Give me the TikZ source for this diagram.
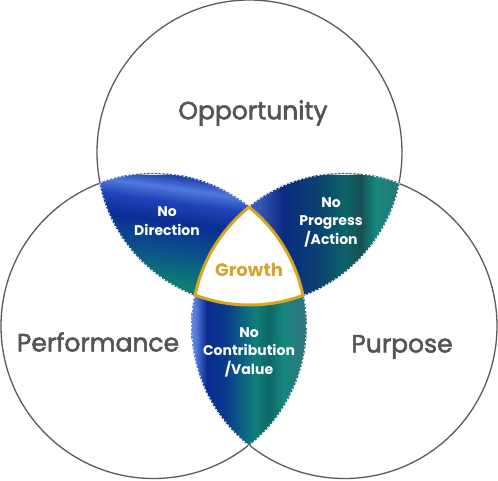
\documentclass[tikz,border=0pt]{standalone}
\usepackage{fontspec}
\setmainfont{Poppins}
\newfontfamily\ringfont{Poppins}[FakeBold=2.2]
\usetikzlibrary{positioning}
\definecolor{ringLine}{HTML}{5A5A5A}
\definecolor{textGray}{HTML}{555555}
\definecolor{goldEdge}{HTML}{D9A521}
\definecolor{goldText}{HTML}{D6A32E}
% direction lens colours
\definecolor{dirA}{HTML}{2B5D63}
\definecolor{dirB}{HTML}{0E7D74}
\definecolor{dirC}{HTML}{0B4F8A}
\definecolor{dirD}{HTML}{0A2E95}
\definecolor{dirE}{HTML}{1E44B8}
\definecolor{dirF}{HTML}{5079DC}
\definecolor{dirG}{HTML}{2444B4}
% progress lens colours
\definecolor{proA}{HTML}{3A5AB5}
\definecolor{proB}{HTML}{0A2A80}
\definecolor{proC}{HTML}{0B4470}
\definecolor{proD}{HTML}{0D6468}
\definecolor{proE}{HTML}{1A4E55}
\definecolor{proF}{HTML}{138A7F}
\definecolor{proG}{HTML}{2C7070}
% contribution lens colours
\definecolor{conA}{HTML}{5A80E0}
\definecolor{conB}{HTML}{0A2A90}
\definecolor{conC}{HTML}{0A3A8C}
\definecolor{conD}{HTML}{0E7E78}
\definecolor{conE}{HTML}{0E6868}
\definecolor{conF}{HTML}{15887E}
\definecolor{conG}{HTML}{3A6E7A}
\pgfdeclareverticalshading{directionShade}{100bp}{color(0bp)=(dirA); color(25bp)=(dirA);
  color(33bp)=(dirB); color(45bp)=(dirC); color(55bp)=(dirD); color(62bp)=(dirE);
  color(67bp)=(dirF); color(71bp)=(dirG); color(75bp)=(dirE); color(100bp)=(dirE)}
\pgfdeclarehorizontalshading{progressShade}{100bp}{color(0bp)=(proA); color(25bp)=(proA);
  color(40bp)=(proA); color(46bp)=(proB); color(55bp)=(proC); color(61bp)=(proD);
  color(64.5bp)=(proE); color(68bp)=(proF); color(75bp)=(proG); color(100bp)=(proG)}
\pgfdeclarehorizontalshading{contribShade}{100bp}{color(0bp)=(conA); color(25bp)=(conA);
  color(27bp)=(conA); color(32bp)=(conB); color(40bp)=(conC); color(52bp)=(conD);
  color(58bp)=(conE); color(64bp)=(conF); color(75bp)=(conG); color(100bp)=(conG)}
\newcommand{\ringRad}{152.5pt}
\newcommand{\ringOut}{153.3pt}
\tikzset{
  ring/.style={draw=ringLine, line width=1.3pt},
  ringlabel/.style={font=\ringfont\fontsize{25}{28}\selectfont, text=textGray},
  lenslabel/.style={font=\bfseries\fontsize{14}{18.5}\selectfont, text=white, align=center},
  lensedge/.style={draw=white, line width=1.8pt, dotted},
  goldline/.style={draw=goldEdge, line width=3pt},
  goldlabel/.style={font=\bfseries\fontsize{18}{20}\selectfont, text=goldText},
}
\begin{document}
\begin{tikzpicture}[x=1pt, y=-1pt]

  \useasboundingbox (0,0) rectangle (498,480);

  % === Circle centres ===
  \coordinate (cTop) at (249.5,152.5);
  \coordinate (cLeft) at (153.5,326);
  \coordinate (cRight) at (344.5,326);

  % === Outer rings ===
  \draw[ring] (cTop) circle[radius=\ringRad];
  \draw[ring] (cLeft) circle[radius=\ringRad];
  \draw[ring] (cRight) circle[radius=\ringRad];

  % === Lens: top / left ===
  \begin{scope}
    \clip (cTop) circle[radius=\ringOut];
    \clip (cLeft) circle[radius=\ringOut];
    \shade[shading=directionShade, shading angle=-8] (95,175) rectangle (310,305);
    \draw[lensedge] (cTop) circle[radius=\ringOut] (cLeft) circle[radius=\ringOut];
  \end{scope}

  % === Lens: top / right ===
  \begin{scope}
    \clip (cTop) circle[radius=\ringOut];
    \clip (cRight) circle[radius=\ringOut];
    \shade[shading=progressShade] (195,175) rectangle (405,305);
    \draw[lensedge] (cTop) circle[radius=\ringOut] (cRight) circle[radius=\ringOut];
  \end{scope}

  % === Lens: left / right ===
  \begin{scope}
    \clip (cLeft) circle[radius=\ringOut];
    \clip (cRight) circle[radius=\ringOut];
    \shade[shading=contribShade] (190,200) rectangle (310,450);
    \draw[lensedge] (cLeft) circle[radius=\ringOut] (cRight) circle[radius=\ringOut];
  \end{scope}

  % === Centre: all three ===
  \begin{scope}
    \clip (cTop) circle[radius=\ringRad];
    \clip (cLeft) circle[radius=\ringRad];
    \fill[white] (cRight) circle[radius=\ringRad];
  \end{scope}
  \begin{scope}
    \clip (cTop) circle[radius=154pt];
    \clip (cLeft) circle[radius=154pt];
    \draw[goldline] (cRight) circle[radius=\ringRad];
  \end{scope}
  \begin{scope}
    \clip (cTop) circle[radius=154pt];
    \clip (cRight) circle[radius=154pt];
    \draw[goldline] (cLeft) circle[radius=\ringRad];
  \end{scope}
  \begin{scope}
    \clip (cLeft) circle[radius=154pt];
    \clip (cRight) circle[radius=154pt];
    \draw[goldline] (cTop) circle[radius=\ringRad];
  \end{scope}

  % === Labels ===
  \node[ringlabel] (opportunity) at (253,113) {Opportunity};
  \node[ringlabel] (performance) at (98,342) {Performance};
  \node[ringlabel] (purpose) at (402,347) {Purpose};

  \node[lenslabel] (direction) at (167,221) {No\\Direction};
  \node[lenslabel] (progress) at (331,222) {No\\Progress\\/Action};
  \node[lenslabel] (contribution) at (249,352) {No\\Contribution\\/Value};
  \node[goldlabel] (growth) at (249,270) {Growth};

\end{tikzpicture}
\end{document}
